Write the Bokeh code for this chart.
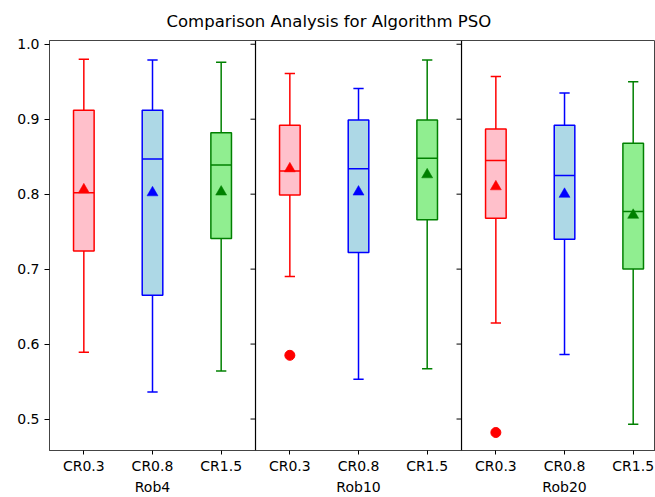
from bokeh.plotting import figure
from bokeh.models import Range1d, FixedTicker, LinearAxis, Span, ColumnDataSource, PrintfTickFormatter
from bokeh.embed import file_html
from bokeh.resources import INLINE

# ---- data ----
groups = ["Rob4", "Rob10", "Rob20"]
crs = ["CR0.3", "CR0.8", "CR1.5"]
# per box, ordered Rob4(CR0.3, CR0.8, CR1.5), Rob10(...), Rob20(...)
whisker_low = [0.589, 0.536, 0.564, 0.690, 0.553, 0.567, 0.628, 0.586, 0.493]
q1 = [0.724, 0.665, 0.741, 0.799, 0.722, 0.766, 0.768, 0.740, 0.700]
median = [0.802, 0.847, 0.839, 0.831, 0.834, 0.848, 0.845, 0.825, 0.777]
q3 = [0.912, 0.912, 0.882, 0.892, 0.899, 0.899, 0.887, 0.892, 0.868]
whisker_high = [0.980, 0.979, 0.976, 0.961, 0.941, 0.979, 0.957, 0.935, 0.950]
mean = [0.806, 0.802, 0.803, 0.834, 0.803, 0.826, 0.810, 0.800, 0.772]
outlier_group = ["Rob10", "Rob20"]
outlier_cr = ["CR0.3", "CR0.3"]
outlier_value = [0.585, 0.482]
y_ticks = [0.5, 0.6, 0.7, 0.8, 0.9, 1.0]

edge_colors = ["red", "blue", "green"]
fill_colors = ["pink", "lightblue", "lightgreen"]

FONT = "DejaVu Sans"
BOX_W = 0.3
CAP_W = 0.15

# positions: each group spans 3 units, boxes at 1..3 inside each group
def pos(gi, ci):
    return gi * 3 + ci + 1

xs, ec, fc = [], [], []
for gi in range(len(groups)):
    for ci in range(len(crs)):
        xs.append(pos(gi, ci))
        ec.append(edge_colors[ci])
        fc.append(fill_colors[ci])

src = ColumnDataSource(dict(
    x=xs, q1=q1, q3=q3, med=median, lo=whisker_low, hi=whisker_high, mean=mean,
    ec=ec, fc=fc,
    bx0=[x - BOX_W / 2 for x in xs], bx1=[x + BOX_W / 2 for x in xs],
    cx0=[x - CAP_W / 2 for x in xs], cx1=[x + CAP_W / 2 for x in xs],
))

ox = [pos(groups.index(g), crs.index(c)) for g, c in zip(outlier_group, outlier_cr)]
oc = [edge_colors[crs.index(c)] for c in outlier_cr]
osrc = ColumnDataSource(dict(x=ox, y=outlier_value, c=oc))

px_per_unit = 68.67
W, H = 655, 497
LEFT, TOP = 49, 40
frame_w = W - LEFT
p = figure(width=W, height=H,
           x_range=Range1d(0.5, 0.5 + frame_w / px_per_unit),
           y_range=Range1d(0.458, 1.005),
           output_backend="svg", toolbar_location=None,
           min_border_left=LEFT, min_border_right=0, min_border_top=TOP, min_border_bottom=0)

p.title.text = "Comparison Analysis for Algorithm PSO"
p.title.align = "left"
p.title.offset = 117
p.title.standoff = 19
p.title.text_font = FONT
p.title.text_font_size = "16.5px"
p.title.text_font_style = "normal"
p.title.text_color = "black"

p.xgrid.visible = False
p.ygrid.visible = False
p.outline_line_color = "#444444"
p.outline_line_width = 1
p.background_fill_color = "white"
p.border_fill_color = "white"

# whiskers
p.segment(x0="x", y0="q3", x1="x", y1="hi", source=src, line_color="ec", line_width=1.5)
p.segment(x0="x", y0="q1", x1="x", y1="lo", source=src, line_color="ec", line_width=1.5)
p.segment(x0="cx0", y0="hi", x1="cx1", y1="hi", source=src, line_color="ec", line_width=1.5)
p.segment(x0="cx0", y0="lo", x1="cx1", y1="lo", source=src, line_color="ec", line_width=1.5)
# boxes
p.vbar(x="x", width=BOX_W, top="q3", bottom="q1", source=src,
       fill_color="fc", line_color="ec", line_width=1.5)
# medians
p.segment(x0="bx0", y0="med", x1="bx1", y1="med", source=src, line_color="ec", line_width=1.5)
# means
p.scatter(x="x", y="mean", source=src, marker="triangle", size=11,
          fill_color="ec", line_color="ec", line_width=0.5)
# outliers
p.scatter(x="x", y="y", source=osrc, marker="circle", size=10,
          fill_color="c", line_color="c")

# group separators + their left-pointing y ticks
for gi in range(1, len(groups)):
    sep = gi * 3 + 0.5
    p.add_layout(Span(location=sep, dimension="height", line_color="black", line_width=1.2))
    p.segment(x0=[sep - 5 / px_per_unit] * len(y_ticks), x1=[sep] * len(y_ticks),
              y0=y_ticks, y1=y_ticks, line_color="black", line_width=1)

# y axis
yax = p.yaxis[0]
yax.ticker = FixedTicker(ticks=y_ticks)
yax.formatter = PrintfTickFormatter(format="%.1f")
yax.minor_tick_line_color = None
yax.major_tick_out = 5
yax.major_tick_in = 0
yax.major_tick_line_color = "black"
yax.axis_line_color = "#444444"
yax.major_label_text_font = FONT
yax.major_label_text_font_size = "14px"
yax.major_label_text_color = "black"
yax.major_label_standoff = 5

# x axis: CR labels
xax = p.xaxis[0]
xax.ticker = FixedTicker(ticks=xs)
xax.major_label_overrides = {x: crs[i % 3] for i, x in enumerate(xs)}
xax.minor_tick_line_color = None
xax.major_tick_out = 4
xax.major_tick_in = 0
xax.major_tick_line_color = "black"
xax.axis_line_color = "#444444"
xax.major_label_text_font = FONT
xax.major_label_text_font_size = "14px"
xax.major_label_text_color = "black"
xax.major_label_standoff = 3

# second x axis: group labels
centers = [pos(gi, 1) for gi in range(len(groups))]
gax = LinearAxis(ticker=FixedTicker(ticks=centers),
                 major_label_overrides={c: groups[i] for i, c in enumerate(centers)})
gax.minor_tick_line_color = None
gax.major_tick_line_color = None
gax.major_tick_out = 0
gax.major_tick_in = 0
gax.axis_line_color = None
gax.major_label_text_font = FONT
gax.major_label_text_font_size = "14px"
gax.major_label_text_color = "black"
gax.major_label_standoff = 2
p.add_layout(gax, "below")

open("out.html", "w").write(file_html(p, INLINE))
